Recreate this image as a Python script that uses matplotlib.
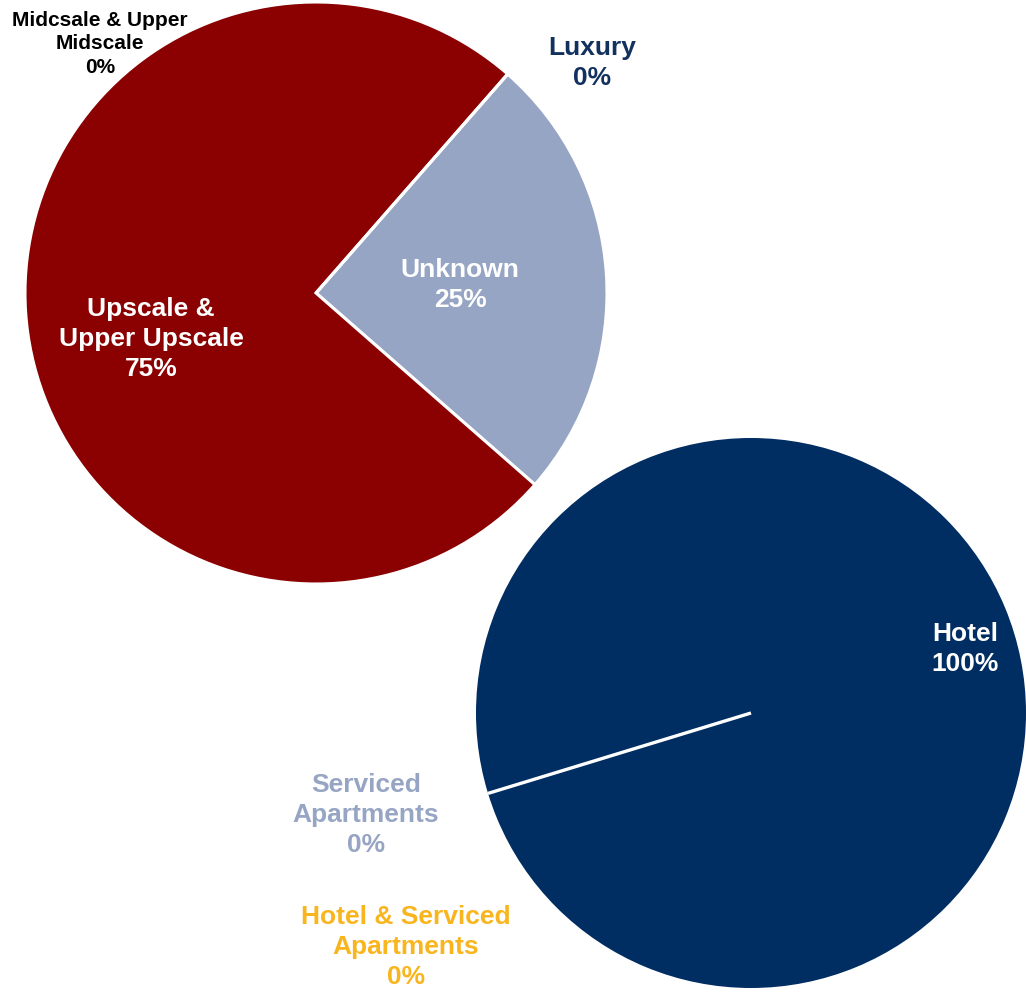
import matplotlib
matplotlib.use("Agg")
import matplotlib.pyplot as plt
import numpy as np

plt.rcParams['font.family'] = ['Liberation Sans', 'DejaVu Sans']

# --- data ---
class_labels = ["Luxury", "Unknown", "Upscale &\nUpper Upscale", "Midcsale & Upper\nMidscale"]
class_values = [0, 25, 75, 0]
class_colors = ["#13315F", "#97A5C4", "#8B0000", "#8B0000"]

type_labels = ["Hotel", "Serviced\nApartments", "Hotel & Serviced\nApartments"]
type_values = [100, 0, 0]
type_colors = ["#002D62", "#97A5C4", "#F9B51E"]

W, H = 1026, 995
fig = plt.figure(figsize=(W / 100, H / 100), dpi=100)
ax = fig.add_axes([0, 0, 1, 1])
ax.set_xlim(0, W)
ax.set_ylim(0, H)
ax.axis("off")

def py(y):
    return H - y

# pie 1: class
c1 = (316, py(294)); r1 = 291
start1 = 48.8
ax.pie(class_values, colors=class_colors, center=c1, radius=r1,
       startangle=start1, counterclock=False, normalize=True,
       wedgeprops=dict(edgecolor="white", linewidth=2.2), frame=True)

# pie 2: type
c2 = (751, py(714)); r2 = 275
start2 = 197
ax.pie(type_values, colors=type_colors, center=c2, radius=r2,
       startangle=start2, counterclock=False, normalize=True,
       wedgeprops=dict(edgecolor="none", linewidth=0), frame=True)
# white separator line at the start of the full slice
a = np.deg2rad(start2)
ax.plot([c2[0], c2[0] + r2 * np.cos(a)], [c2[1], c2[1] + r2 * np.sin(a)],
        color="white", lw=2.4, solid_capstyle="butt", zorder=5)

ax.set_xlim(0, W)
ax.set_ylim(0, H)
ax.axis("off")

def pct(v):
    return f"{v:.0f}%"

fs = 19
tkw = dict(ha="center", va="center", fontweight="bold", linespacing=1.33, zorder=10)

# class labels
ax.text(592, py(63), f"{class_labels[0]}\n{pct(class_values[0])}", color="#13315F", fontsize=fs, **tkw)
ax.text(460, py(285), f"{class_labels[1]}\n{pct(class_values[1])}", color="white", fontsize=fs, **tkw)
ax.text(151, py(339), f"{class_labels[2]}\n{pct(class_values[2])}", color="white", fontsize=fs, **tkw)
ax.text(100, py(44), f"{class_labels[3]}\n{pct(class_values[3])}", color="black", fontsize=15, **tkw)

# type labels
ax.text(965, py(649), f"{type_labels[0]}\n{pct(type_values[0])}", color="white", fontsize=fs, **tkw)
ax.text(366, py(815), f"{type_labels[1]}\n{pct(type_values[1])}", color="#97A5C4", fontsize=fs, **tkw)
ax.text(406, py(947), f"{type_labels[2]}\n{pct(type_values[2])}", color="#F9B51E", fontsize=fs, **tkw)

fig.savefig("out.png", dpi=100)
